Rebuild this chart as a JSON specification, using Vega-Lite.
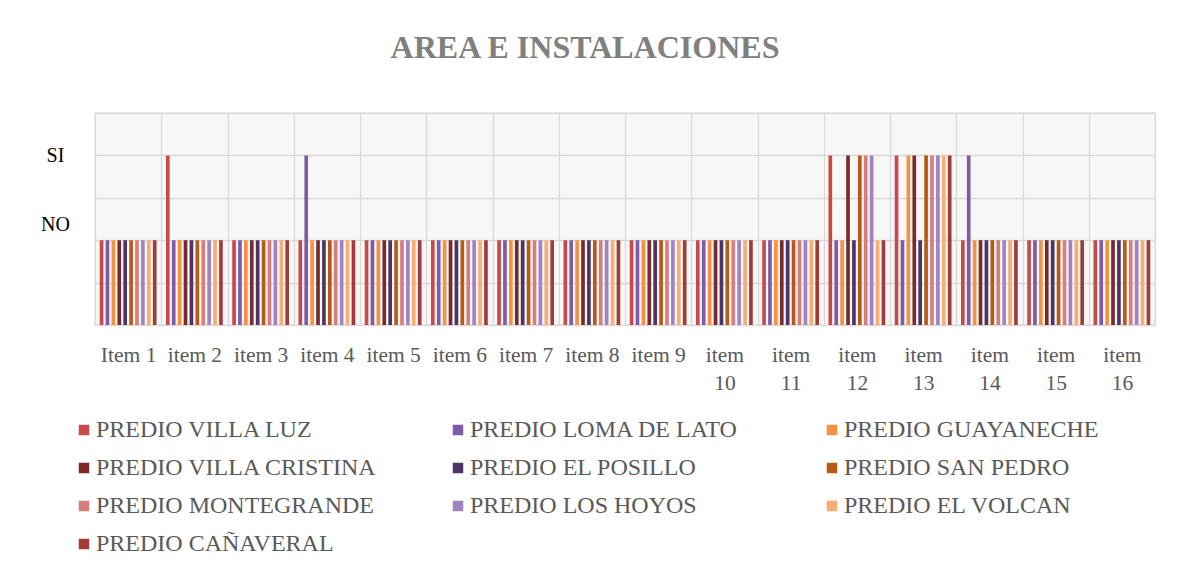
{
  "$schema": "https://vega.github.io/schema/vega-lite/v6.json",
  "width": 1060,
  "height": 212,
  "autosize": {"type": "none"},
  "padding": {"left": 95, "top": 113, "right": 22, "bottom": 254},
  "background": "white",
  "title": {"text": "AREA E INSTALACIONES", "font": "Liberation Serif", "fontSize": 32, "fontWeight": "bold", "color": "#808080", "anchor": "middle", "dx": -40, "offset": 48},
  "config": {"view": {"fill": "#f7f7f7", "stroke": "#d9d9d9", "strokeWidth": 1.3}, "font": "Liberation Serif"},
  "data": {"values": [
    {"item":"Item 1","predio":"PREDIO VILLA LUZ","v":2},{"item":"Item 1","predio":"PREDIO LOMA DE LATO","v":2},{"item":"Item 1","predio":"PREDIO GUAYANECHE","v":2},{"item":"Item 1","predio":"PREDIO VILLA CRISTINA","v":2},{"item":"Item 1","predio":"PREDIO EL POSILLO","v":2},{"item":"Item 1","predio":"PREDIO SAN PEDRO","v":2},{"item":"Item 1","predio":"PREDIO MONTEGRANDE","v":2},{"item":"Item 1","predio":"PREDIO LOS HOYOS","v":2},{"item":"Item 1","predio":"PREDIO EL VOLCAN","v":2},{"item":"Item 1","predio":"PREDIO CAÑAVERAL","v":2},
    {"item":"item 2","predio":"PREDIO VILLA LUZ","v":4},{"item":"item 2","predio":"PREDIO LOMA DE LATO","v":2},{"item":"item 2","predio":"PREDIO GUAYANECHE","v":2},{"item":"item 2","predio":"PREDIO VILLA CRISTINA","v":2},{"item":"item 2","predio":"PREDIO EL POSILLO","v":2},{"item":"item 2","predio":"PREDIO SAN PEDRO","v":2},{"item":"item 2","predio":"PREDIO MONTEGRANDE","v":2},{"item":"item 2","predio":"PREDIO LOS HOYOS","v":2},{"item":"item 2","predio":"PREDIO EL VOLCAN","v":2},{"item":"item 2","predio":"PREDIO CAÑAVERAL","v":2},
    {"item":"item 3","predio":"PREDIO VILLA LUZ","v":2},{"item":"item 3","predio":"PREDIO LOMA DE LATO","v":2},{"item":"item 3","predio":"PREDIO GUAYANECHE","v":2},{"item":"item 3","predio":"PREDIO VILLA CRISTINA","v":2},{"item":"item 3","predio":"PREDIO EL POSILLO","v":2},{"item":"item 3","predio":"PREDIO SAN PEDRO","v":2},{"item":"item 3","predio":"PREDIO MONTEGRANDE","v":2},{"item":"item 3","predio":"PREDIO LOS HOYOS","v":2},{"item":"item 3","predio":"PREDIO EL VOLCAN","v":2},{"item":"item 3","predio":"PREDIO CAÑAVERAL","v":2},
    {"item":"item 4","predio":"PREDIO VILLA LUZ","v":2},{"item":"item 4","predio":"PREDIO LOMA DE LATO","v":4},{"item":"item 4","predio":"PREDIO GUAYANECHE","v":2},{"item":"item 4","predio":"PREDIO VILLA CRISTINA","v":2},{"item":"item 4","predio":"PREDIO EL POSILLO","v":2},{"item":"item 4","predio":"PREDIO SAN PEDRO","v":2},{"item":"item 4","predio":"PREDIO MONTEGRANDE","v":2},{"item":"item 4","predio":"PREDIO LOS HOYOS","v":2},{"item":"item 4","predio":"PREDIO EL VOLCAN","v":2},{"item":"item 4","predio":"PREDIO CAÑAVERAL","v":2},
    {"item":"item 5","predio":"PREDIO VILLA LUZ","v":2},{"item":"item 5","predio":"PREDIO LOMA DE LATO","v":2},{"item":"item 5","predio":"PREDIO GUAYANECHE","v":2},{"item":"item 5","predio":"PREDIO VILLA CRISTINA","v":2},{"item":"item 5","predio":"PREDIO EL POSILLO","v":2},{"item":"item 5","predio":"PREDIO SAN PEDRO","v":2},{"item":"item 5","predio":"PREDIO MONTEGRANDE","v":2},{"item":"item 5","predio":"PREDIO LOS HOYOS","v":2},{"item":"item 5","predio":"PREDIO EL VOLCAN","v":2},{"item":"item 5","predio":"PREDIO CAÑAVERAL","v":2},
    {"item":"item 6","predio":"PREDIO VILLA LUZ","v":2},{"item":"item 6","predio":"PREDIO LOMA DE LATO","v":2},{"item":"item 6","predio":"PREDIO GUAYANECHE","v":2},{"item":"item 6","predio":"PREDIO VILLA CRISTINA","v":2},{"item":"item 6","predio":"PREDIO EL POSILLO","v":2},{"item":"item 6","predio":"PREDIO SAN PEDRO","v":2},{"item":"item 6","predio":"PREDIO MONTEGRANDE","v":2},{"item":"item 6","predio":"PREDIO LOS HOYOS","v":2},{"item":"item 6","predio":"PREDIO EL VOLCAN","v":2},{"item":"item 6","predio":"PREDIO CAÑAVERAL","v":2},
    {"item":"item 7","predio":"PREDIO VILLA LUZ","v":2},{"item":"item 7","predio":"PREDIO LOMA DE LATO","v":2},{"item":"item 7","predio":"PREDIO GUAYANECHE","v":2},{"item":"item 7","predio":"PREDIO VILLA CRISTINA","v":2},{"item":"item 7","predio":"PREDIO EL POSILLO","v":2},{"item":"item 7","predio":"PREDIO SAN PEDRO","v":2},{"item":"item 7","predio":"PREDIO MONTEGRANDE","v":2},{"item":"item 7","predio":"PREDIO LOS HOYOS","v":2},{"item":"item 7","predio":"PREDIO EL VOLCAN","v":2},{"item":"item 7","predio":"PREDIO CAÑAVERAL","v":2},
    {"item":"item 8","predio":"PREDIO VILLA LUZ","v":2},{"item":"item 8","predio":"PREDIO LOMA DE LATO","v":2},{"item":"item 8","predio":"PREDIO GUAYANECHE","v":2},{"item":"item 8","predio":"PREDIO VILLA CRISTINA","v":2},{"item":"item 8","predio":"PREDIO EL POSILLO","v":2},{"item":"item 8","predio":"PREDIO SAN PEDRO","v":2},{"item":"item 8","predio":"PREDIO MONTEGRANDE","v":2},{"item":"item 8","predio":"PREDIO LOS HOYOS","v":2},{"item":"item 8","predio":"PREDIO EL VOLCAN","v":2},{"item":"item 8","predio":"PREDIO CAÑAVERAL","v":2},
    {"item":"item 9","predio":"PREDIO VILLA LUZ","v":2},{"item":"item 9","predio":"PREDIO LOMA DE LATO","v":2},{"item":"item 9","predio":"PREDIO GUAYANECHE","v":2},{"item":"item 9","predio":"PREDIO VILLA CRISTINA","v":2},{"item":"item 9","predio":"PREDIO EL POSILLO","v":2},{"item":"item 9","predio":"PREDIO SAN PEDRO","v":2},{"item":"item 9","predio":"PREDIO MONTEGRANDE","v":2},{"item":"item 9","predio":"PREDIO LOS HOYOS","v":2},{"item":"item 9","predio":"PREDIO EL VOLCAN","v":2},{"item":"item 9","predio":"PREDIO CAÑAVERAL","v":2},
    {"item":"item 10","predio":"PREDIO VILLA LUZ","v":2},{"item":"item 10","predio":"PREDIO LOMA DE LATO","v":2},{"item":"item 10","predio":"PREDIO GUAYANECHE","v":2},{"item":"item 10","predio":"PREDIO VILLA CRISTINA","v":2},{"item":"item 10","predio":"PREDIO EL POSILLO","v":2},{"item":"item 10","predio":"PREDIO SAN PEDRO","v":2},{"item":"item 10","predio":"PREDIO MONTEGRANDE","v":2},{"item":"item 10","predio":"PREDIO LOS HOYOS","v":2},{"item":"item 10","predio":"PREDIO EL VOLCAN","v":2},{"item":"item 10","predio":"PREDIO CAÑAVERAL","v":2},
    {"item":"item 11","predio":"PREDIO VILLA LUZ","v":2},{"item":"item 11","predio":"PREDIO LOMA DE LATO","v":2},{"item":"item 11","predio":"PREDIO GUAYANECHE","v":2},{"item":"item 11","predio":"PREDIO VILLA CRISTINA","v":2},{"item":"item 11","predio":"PREDIO EL POSILLO","v":2},{"item":"item 11","predio":"PREDIO SAN PEDRO","v":2},{"item":"item 11","predio":"PREDIO MONTEGRANDE","v":2},{"item":"item 11","predio":"PREDIO LOS HOYOS","v":2},{"item":"item 11","predio":"PREDIO EL VOLCAN","v":2},{"item":"item 11","predio":"PREDIO CAÑAVERAL","v":2},
    {"item":"item 12","predio":"PREDIO VILLA LUZ","v":4},{"item":"item 12","predio":"PREDIO LOMA DE LATO","v":2},{"item":"item 12","predio":"PREDIO GUAYANECHE","v":2},{"item":"item 12","predio":"PREDIO VILLA CRISTINA","v":4},{"item":"item 12","predio":"PREDIO EL POSILLO","v":2},{"item":"item 12","predio":"PREDIO SAN PEDRO","v":4},{"item":"item 12","predio":"PREDIO MONTEGRANDE","v":4},{"item":"item 12","predio":"PREDIO LOS HOYOS","v":4},{"item":"item 12","predio":"PREDIO EL VOLCAN","v":2},{"item":"item 12","predio":"PREDIO CAÑAVERAL","v":2},
    {"item":"item 13","predio":"PREDIO VILLA LUZ","v":4},{"item":"item 13","predio":"PREDIO LOMA DE LATO","v":2},{"item":"item 13","predio":"PREDIO GUAYANECHE","v":4},{"item":"item 13","predio":"PREDIO VILLA CRISTINA","v":4},{"item":"item 13","predio":"PREDIO EL POSILLO","v":2},{"item":"item 13","predio":"PREDIO SAN PEDRO","v":4},{"item":"item 13","predio":"PREDIO MONTEGRANDE","v":4},{"item":"item 13","predio":"PREDIO LOS HOYOS","v":4},{"item":"item 13","predio":"PREDIO EL VOLCAN","v":4},{"item":"item 13","predio":"PREDIO CAÑAVERAL","v":4},
    {"item":"item 14","predio":"PREDIO VILLA LUZ","v":2},{"item":"item 14","predio":"PREDIO LOMA DE LATO","v":4},{"item":"item 14","predio":"PREDIO GUAYANECHE","v":2},{"item":"item 14","predio":"PREDIO VILLA CRISTINA","v":2},{"item":"item 14","predio":"PREDIO EL POSILLO","v":2},{"item":"item 14","predio":"PREDIO SAN PEDRO","v":2},{"item":"item 14","predio":"PREDIO MONTEGRANDE","v":2},{"item":"item 14","predio":"PREDIO LOS HOYOS","v":2},{"item":"item 14","predio":"PREDIO EL VOLCAN","v":2},{"item":"item 14","predio":"PREDIO CAÑAVERAL","v":2},
    {"item":"item 15","predio":"PREDIO VILLA LUZ","v":2},{"item":"item 15","predio":"PREDIO LOMA DE LATO","v":2},{"item":"item 15","predio":"PREDIO GUAYANECHE","v":2},{"item":"item 15","predio":"PREDIO VILLA CRISTINA","v":2},{"item":"item 15","predio":"PREDIO EL POSILLO","v":2},{"item":"item 15","predio":"PREDIO SAN PEDRO","v":2},{"item":"item 15","predio":"PREDIO MONTEGRANDE","v":2},{"item":"item 15","predio":"PREDIO LOS HOYOS","v":2},{"item":"item 15","predio":"PREDIO EL VOLCAN","v":2},{"item":"item 15","predio":"PREDIO CAÑAVERAL","v":2},
    {"item":"item 16","predio":"PREDIO VILLA LUZ","v":2},{"item":"item 16","predio":"PREDIO LOMA DE LATO","v":2},{"item":"item 16","predio":"PREDIO GUAYANECHE","v":2},{"item":"item 16","predio":"PREDIO VILLA CRISTINA","v":2},{"item":"item 16","predio":"PREDIO EL POSILLO","v":2},{"item":"item 16","predio":"PREDIO SAN PEDRO","v":2},{"item":"item 16","predio":"PREDIO MONTEGRANDE","v":2},{"item":"item 16","predio":"PREDIO LOS HOYOS","v":2},{"item":"item 16","predio":"PREDIO EL VOLCAN","v":2},{"item":"item 16","predio":"PREDIO CAÑAVERAL","v":2}
  ]},
  "mark": {"type": "bar"},
  "encoding": {
    "x": {"field": "item", "type": "nominal", "sort": null,
      "scale": {"paddingInner": 0, "paddingOuter": 0},
      "axis": {"title": null, "labelAngle": 0, "labelFont": "Liberation Serif", "labelFontSize": 21.5, "labelColor": "#595959", "labelPadding": 19, "labelLineHeight": 28, "ticks": false, "domain": false, "grid": true, "tickBand": "extent", "gridColor": "#d9d9d9", "gridWidth": 1.3,
        "labelExpr": "length(datum.label) > 6 ? split(datum.label, ' ') : datum.label"}},
    "xOffset": {"field": "predio", "type": "nominal",
      "sort": ["PREDIO VILLA LUZ","PREDIO LOMA DE LATO","PREDIO GUAYANECHE","PREDIO VILLA CRISTINA","PREDIO EL POSILLO","PREDIO SAN PEDRO","PREDIO MONTEGRANDE","PREDIO LOS HOYOS","PREDIO EL VOLCAN","PREDIO CAÑAVERAL"],
      "scale": {"paddingInner": 0.38, "paddingOuter": 0.8}},
    "y": {"field": "v", "type": "quantitative", "scale": {"domain": [0, 5]},
      "axis": {"title": null, "values": [0, 1, 2, 2.36, 3, 4, 5], "ticks": false, "domain": false, "labelFont": "Liberation Serif", "labelFontSize": 20, "labelColor": "#000000", "labelAlign": "center", "labelPadding": 40,
        "labelExpr": "datum.value == 4 ? 'SI' : (datum.value > 2.3 && datum.value < 2.4 ? 'NO' : '')",
        "gridColor": "#d9d9d9", "gridWidth": 1.3,
        "gridOpacity": {"condition": {"test": "datum.value > 2.3 && datum.value < 2.4", "value": 0}, "value": 1}}},
    "color": {"field": "predio", "type": "nominal",
      "scale": {"domain": ["PREDIO VILLA LUZ","PREDIO LOMA DE LATO","PREDIO GUAYANECHE","PREDIO VILLA CRISTINA","PREDIO EL POSILLO","PREDIO SAN PEDRO","PREDIO MONTEGRANDE","PREDIO LOS HOYOS","PREDIO EL VOLCAN","PREDIO CAÑAVERAL"],
        "range": ["#c9494a","#7d5ba6","#f7913f","#7b2a2a","#4b3566","#b75a14","#d97c7c","#9f84c4","#f9ad72","#a33a3a"]},
      "legend": {"title": null, "orient": "none", "legendX": -23, "legendY": 305, "direction": "horizontal", "columns": 3, "gridAlign": "all", "columnPadding": 68, "rowPadding": 14, "symbolType": "square", "symbolSize": 110, "symbolStrokeWidth": 0, "labelFont": "Liberation Serif", "labelFontSize": 24, "labelColor": "#595959", "labelLimit": 400, "labelOffset": 0}}
  }
}
